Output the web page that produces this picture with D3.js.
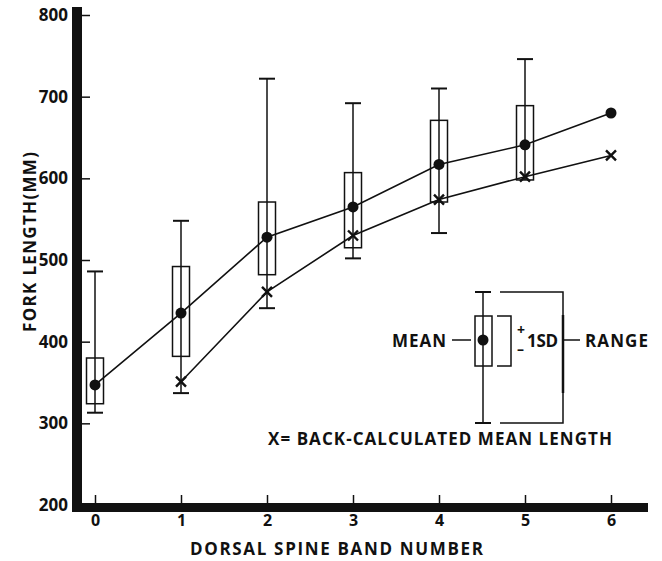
<!DOCTYPE html>
<html>
<head>
<meta charset="utf-8">
<script src="https://cdn.jsdelivr.net/npm/d3@7"></script>
<style>
  body { margin: 0; background: #fff; }
  text { font-family: "Open Sans", "DejaVu Sans", sans-serif; font-weight: 700; fill: #111; }
</style>
</head>
<body>
<div id="chart-area"></div>
<script>
const WIDTH = 662;
const HEIGHT = 561;

// dorsal spine band number
const bands = [0, 1, 2, 3, 4, 5, 6];
// observed mean fork length (mm)
const meanLen = [347, 435, 528, 565, 617, 641, 680];
// back-calculated mean length (mm), none for band 0
const backCalc = [null, 351, 461, 530, 574, 602, 628];
// +/- 1 SD, bands 0..5
const sdHigh = [380, 492, 571, 607, 671, 689];
const sdLow = [324, 382, 482, 515, 571, 598];
// range, bands 0..5
const rangeHigh = [486, 548, 722, 692, 710, 746];
const rangeLow = [313, 337, 441, 502, 533, 598];

const yTicks = [200, 300, 400, 500, 600, 700, 800];

const x = d3.scaleLinear().domain([0, 6]).range([95, 611]);
const y = d3.scaleLinear().domain([200, 800]).range([505, 15]);

const svg = d3.select('#chart-area').append('svg')
    .attr("width", WIDTH)
    .attr("height", HEIGHT)
    .attr("viewBox", [0, 0, WIDTH, HEIGHT]);

const ink = "#111";

// y ticks (right of the heavy axis) and labels (left)
svg.append("g")
    .attr("transform", "translate(82,0)")
    .call(d3.axisRight(y).tickValues(yTicks.slice(1)).tickSize(8).tickFormat(""))
    .call(g => g.select(".domain").remove())
    .call(g => g.selectAll("line").attr("stroke", ink).attr("stroke-width", 1.5));

svg.append("g")
    .attr("transform", "translate(72,0)")
    .call(d3.axisLeft(y).tickValues(yTicks).tickSize(0).tickPadding(4))
    .call(g => g.select(".domain").remove())
    .call(g => g.selectAll("text")
        .attr("font-size", 17)
        .attr("font-family", "'Open Sans', sans-serif")
        .attr("font-weight", 700)
        .attr("fill", ink));

// x ticks (above the heavy axis) and labels
svg.append("g")
    .attr("transform", "translate(0,503)")
    .call(d3.axisTop(x).tickValues(bands).tickSize(8).tickFormat(""))
    .call(g => g.select(".domain").remove())
    .call(g => g.selectAll("line").attr("stroke", ink).attr("stroke-width", 1.5));

svg.append("g")
    .attr("transform", "translate(0,512)")
    .call(d3.axisBottom(x).tickValues(bands).tickSize(0).tickPadding(3).tickFormat(d3.format("d")))
    .call(g => g.select(".domain").remove())
    .call(g => g.selectAll("text")
        .attr("font-size", 16)
        .attr("font-family", "'Open Sans', sans-serif")
        .attr("font-weight", 700)
        .attr("fill", ink));

// heavy axis bars
svg.append("rect").attr("x", 72).attr("y", 7).attr("width", 10).attr("height", 505).attr("fill", ink);
svg.append("rect").attr("x", 72).attr("y", 503).attr("width", 576).attr("height", 9).attr("fill", ink);

// axis titles
svg.append("text")
    .attr("x", 190).attr("y", 555)
    .attr("font-size", 17)
    .attr("textLength", 293)
    .attr("lengthAdjust", "spacing")
    .text("DORSAL SPINE BAND NUMBER");

svg.append("text")
    .attr("transform", "translate(36,332) rotate(-90)")
    .attr("font-size", 17)
    .attr("textLength", 180)
    .attr("lengthAdjust", "spacing")
    .text("FORK LENGTH(MM)");

// whiskers and boxes
const boxW = 17;
const capW = 16;
const stats = sdHigh.map((d, i) => ({
    band: bands[i], sdHigh: d, sdLow: sdLow[i], hi: rangeHigh[i], lo: rangeLow[i]
}));

const box = svg.append("g")
    .attr("stroke", ink)
    .attr("fill", "none")
    .attr("stroke-width", 1.5)
    .selectAll()
    .data(stats)
    .join("g")
    .attr("transform", d => `translate(${x(d.band)},0)`);

box.append("line")
    .attr("y1", d => y(d.hi)).attr("y2", d => y(d.lo));
box.append("line")
    .attr("x1", -capW / 2).attr("x2", capW / 2)
    .attr("y1", d => y(d.hi)).attr("y2", d => y(d.hi))
    .attr("stroke-width", 2);
box.filter(d => d.lo < d.sdLow).append("line")
    .attr("x1", -capW / 2).attr("x2", capW / 2)
    .attr("y1", d => y(d.lo)).attr("y2", d => y(d.lo))
    .attr("stroke-width", 2);
box.append("rect")
    .attr("x", -boxW / 2).attr("width", boxW)
    .attr("y", d => y(d.sdHigh))
    .attr("height", d => y(d.sdLow) - y(d.sdHigh));

// mean lines
const line = d3.line()
    .defined(d => d[1] != null)
    .x(d => x(d[0]))
    .y(d => y(d[1]));

svg.append("path")
    .attr("d", line(bands.map((b, i) => [b, meanLen[i]])))
    .attr("fill", "none").attr("stroke", ink).attr("stroke-width", 1.6);

svg.append("path")
    .attr("d", line(bands.map((b, i) => [b, backCalc[i]])))
    .attr("fill", "none").attr("stroke", ink).attr("stroke-width", 1.6);

svg.append("g")
    .selectAll()
    .data(bands)
    .join("circle")
    .attr("cx", d => x(d))
    .attr("cy", (d, i) => y(meanLen[i]))
    .attr("r", 5.5)
    .attr("fill", ink);

const xs = 5;
svg.append("g")
    .attr("stroke", ink)
    .attr("stroke-width", 2.4)
    .selectAll()
    .data(bands.filter((b, i) => backCalc[i] != null))
    .join("path")
    .attr("d", d => {
        const cx = x(d), cy = y(backCalc[d]);
        return `M${cx - xs},${cy - xs}L${cx + xs},${cy + xs}M${cx + xs},${cy - xs}L${cx - xs},${cy + xs}`;
    });

// legend
const lg = svg.append("g").attr("transform", "translate(483,340)");
const lgs = lg.append("g").attr("stroke", ink).attr("fill", "none").attr("stroke-width", 1.5);
lgs.append("line").attr("y1", -48).attr("y2", 83);
lgs.append("line").attr("x1", -8).attr("x2", 8).attr("y1", -48).attr("y2", -48).attr("stroke-width", 2);
lgs.append("line").attr("x1", -8).attr("x2", 8).attr("y1", 83).attr("y2", 83).attr("stroke-width", 2);
lgs.append("rect").attr("x", -8).attr("y", -24).attr("width", 17).attr("height", 50);
lgs.append("path").attr("d", "M14,-24H28V26H14");
lgs.append("path").attr("d", "M17,-48H80V83H17");
lgs.append("line").attr("x1", 80).attr("x2", 80).attr("y1", -25).attr("y2", 53).attr("stroke-width", 2.5);
lgs.append("line").attr("x1", -31).attr("x2", -12).attr("y1", 0).attr("y2", 0);
lgs.append("line").attr("x1", 80).attr("x2", 97).attr("y1", 0).attr("y2", 0);
lg.append("circle").attr("r", 5.5).attr("fill", ink);

lg.append("text").attr("x", -37).attr("y", 7).attr("text-anchor", "end")
    .attr("font-size", 17).attr("textLength", 54).attr("lengthAdjust", "spacing").text("MEAN");
lg.append("text").attr("x", 34).attr("y", -5).attr("font-size", 14).text("+");
lg.append("text").attr("x", 34).attr("y", 14).attr("font-size", 14).text("–");
lg.append("text").attr("x", 44).attr("y", 7).attr("font-size", 17)
    .attr("textLength", 31).attr("lengthAdjust", "spacing").text("1SD");
lg.append("text").attr("x", 102).attr("y", 7).attr("font-size", 17)
    .attr("textLength", 63).attr("lengthAdjust", "spacing").text("RANGE");

svg.append("text")
    .attr("x", 268).attr("y", 445)
    .attr("font-size", 17)
    .attr("textLength", 344)
    .attr("lengthAdjust", "spacing")
    .text("X= BACK-CALCULATED MEAN LENGTH");
</script>
</body>
</html>
